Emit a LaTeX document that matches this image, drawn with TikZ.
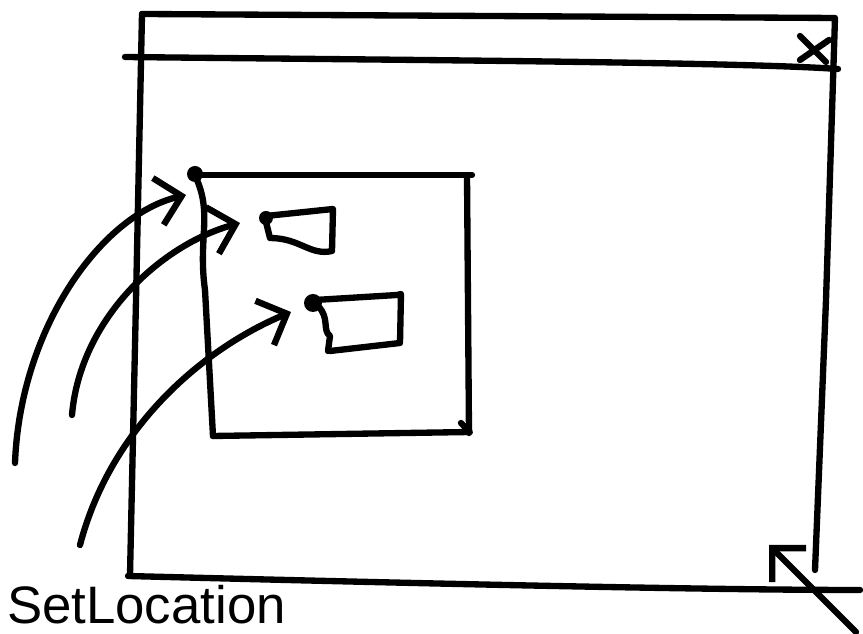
\documentclass[tikz,border=0pt]{standalone}
\usepackage{fontspec}
\setmainfont{Liberation Sans}
\usepackage{tikz}
\usetikzlibrary{arrows.meta}

\tikzset{
  pen/.style={line width=1.8pt, line cap=round, line join=round},
  pointer/.style={pen, -{Straight Barb[length=2.4mm, width=4.8mm, line width=1.8pt]}},
  grip/.style={fill=black},
}

\begin{document}
\begin{tikzpicture}[x=0.01cm, y=-0.01cm, pen]
        \useasboundingbox (0,0) rectangle (863,634);
        % Window frame
        \draw (142,14) -- (835,18) -- (826,300) -- (815,570);
        \draw (142,14) -- (136,300) -- (130,575);
        \draw (128,576) .. controls (400,583) and (700,590) .. (860,590);
        % Title bar and close box
        \draw (125,57) .. controls (400,60) and (740,62) .. (838,69);
        \draw (800,36) -- (826,62);
        \draw (829,40) -- (800,60);
        % Panel
        \coordinate (panelCorner) at (195,174);
        \fill[grip] (panelCorner) circle (8);
        \draw (200,175) -- (472,175);
        \draw (467,175) -- (469,433);
        \draw (213,436) -- (470,432) -- (461,423);
        \draw (197,180) .. controls (212,215) and (198,240) .. (205,290) -- (213,436);
        % First control
        \coordinate (firstCorner) at (266,218);
        \fill[grip] (firstCorner) circle (7);
        \draw (266,216) -- (333,209) -- (332,251)
              .. controls (310,256) and (300,238) .. (270,238) -- (266,222);
        % Second control
        \coordinate (secondCorner) at (313,303);
        \fill[grip] (secondCorner) circle (9);
        \draw (315,300) -- (397,295) -- (401,294) -- (400,343) -- (330,351);
        \draw (318,306) .. controls (330,318) and (322,330) .. (330,336)
              -- (328,351);
        % Pointers to the locations
        \coordinate (panelFrom) at (15,463);
        \coordinate (panelTip) at (186,195);
        \coordinate (firstFrom) at (72,415);
        \coordinate (firstTip) at (240,223);
        \coordinate (secondFrom) at (80,545);
        \coordinate (secondTip) at (291,312);
        \draw[pointer] (panelFrom) .. controls (20,330) and (100,215) .. (panelTip);
        \draw[pointer] (firstFrom) .. controls (80,320) and (160,245) .. (firstTip);
        \draw[pointer] (secondFrom) .. controls (110,430) and (200,350) .. (secondTip);
        % Resize pointer
        \coordinate (sizeFrom) at (856,632);
        \coordinate (sizeTip) at (769,545);
        \draw[pointer] (sizeFrom) -- (sizeTip);
        % Label
        \node[anchor=base west, inner sep=0pt, font=\fontsize{15}{18}\selectfont] (label) at (4,624) {SetLocation};
      \end{tikzpicture}
\end{document}
